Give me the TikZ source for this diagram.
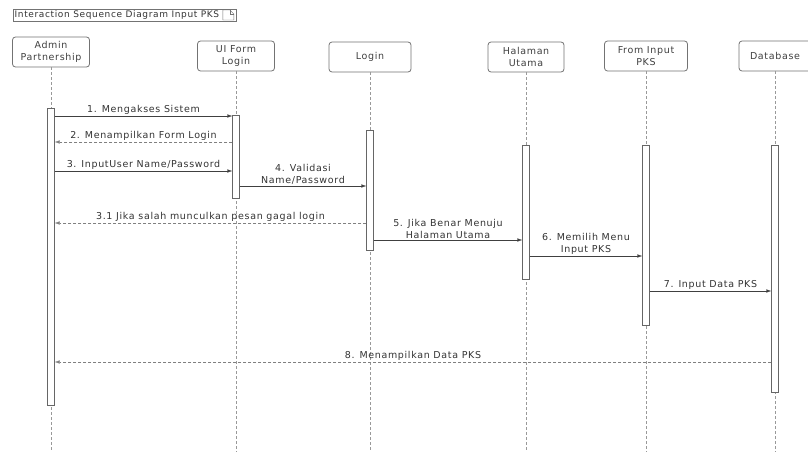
\documentclass[tikz,border=0pt]{standalone}
\usepackage{fontspec}
\setmainfont{DejaVu Sans}
\newfontfamily\diagfont[LetterSpace=7]{DejaVu Sans}
\usepackage{tikz}
\usetikzlibrary{arrows.meta, positioning, calc}

\begin{document}
\begin{tikzpicture}[
    x=1pt, y=-1pt,
    % Node styles
    head/.style={rectangle, rounded corners=3pt, draw=black!55, thick, fill=white, minimum height=30pt, align=center, text=black!75, font=\diagfont\fontsize{9.5}{11.5}\selectfont},
    actbar/.style={rectangle, draw=black!60, fill=white, minimum width=7pt, inner sep=0pt},
    lifeline/.style={draw=black!40, densely dashed},
    msg/.style={draw=black!75, -{Latex[length=5pt,width=3.5pt]}},
    reply/.style={msg, densely dashed, draw=black!50},
    lbl/.style={text=black!80, align=center, inner sep=1.5pt, font=\diagfont\fontsize{9.5}{12}\selectfont},
]
\useasboundingbox (0,0) rectangle (808,452);

% Frame title
\node[draw=black!55, anchor=west, inner sep=1.5pt, minimum height=12pt, text=black!80, font=\diagfont\fontsize{9}{10}\selectfont] (title) at (13,15) {Interaction Sequence Diagram Input PKS\kern16pt};
\coordinate (ic) at ($(title.east)+(-14,-5)$);
\draw[black!55] (ic) -- ++(0,10) -- ++(11,0) -- ++(0,-6) -- ++(-4,-4) -- cycle;
\draw[black!55] ($(ic)+(7,0)$) -- ++(0,4) -- ++(4,0);

% Lifeline heads
\node[head, minimum width=77pt] (adm) at (51,52) {Admin\\Partnership};
\node[head, minimum width=77pt] (uif) at (236,56) {UI Form\\Login};
\node[head, minimum width=82pt] (lgn) at (370,57) {Login};
\node[head, minimum width=76pt] (hal) at (526,57) {Halaman\\Utama};
\node[head, minimum width=83pt] (fip) at (646,56) {From Input\\PKS};
\node[head, minimum width=72pt] (dbs) at (775,56) {Database};

% Lifelines
\foreach \h in {adm, uif, lgn, hal, fip, dbs}
    \draw[lifeline] (\h.south) -- (\h.south |- 0,452);

% Activation bars
\node[actbar, minimum height=297pt] (admbar) at (51,256.5) {};
\node[actbar, minimum height=83pt] (uibar) at (236,156.5) {};
\node[actbar, minimum height=120pt] (lgnbar) at (370,190) {};
\node[actbar, minimum height=134pt] (halbar) at (526,212) {};
\node[actbar, minimum height=180pt] (fipbar) at (646,235) {};
\node[actbar, minimum height=247pt] (dbsbar) at (775,268.5) {};

% Message rows
\coordinate (y1) at (0,116);
\coordinate (y2) at (0,142);
\coordinate (y3) at (0,171);
\coordinate (y4) at (0,186);
\coordinate (y31) at (0,223);
\coordinate (y5) at (0,240);
\coordinate (y6) at (0,256);
\coordinate (y7) at (0,291);
\coordinate (y8) at (0,362);

% Messages
\draw[msg] (admbar.east |- y1) -- node[lbl, above] (l1) {1. Mengakses Sistem} (uibar.west |- y1);
\draw[reply] (uibar.west |- y2) -- node[lbl, above] (l2) {2. Menampilkan Form Login} (admbar.east |- y2);
\draw[msg] (admbar.east |- y3) -- node[lbl, above] (l3) {3. InputUser Name/Password} (uibar.west |- y3);
\draw[msg] (uibar.east |- y4) -- node[lbl, above] (l4) {4. Validasi\\Name/Password} (lgnbar.west |- y4);
\draw[reply] (lgnbar.west |- y31) -- node[lbl, above] (l31) {3.1 Jika salah munculkan pesan gagal login} (admbar.east |- y31);
\draw[msg] (lgnbar.east |- y5) -- node[lbl, above] (l5) {5. Jika Benar Menuju\\Halaman Utama} (halbar.west |- y5);
\draw[msg] (halbar.east |- y6) -- node[lbl, above] (l6) {6. Memilih Menu\\Input PKS} (fipbar.west |- y6);
\draw[msg] (fipbar.east |- y7) -- node[lbl, above] (l7) {7. Input Data PKS} (dbsbar.west |- y7);
\draw[reply] (dbsbar.west |- y8) -- node[lbl, above] (l8) {8. Menampilkan Data PKS} (admbar.east |- y8);

\end{tikzpicture}
\end{document}
